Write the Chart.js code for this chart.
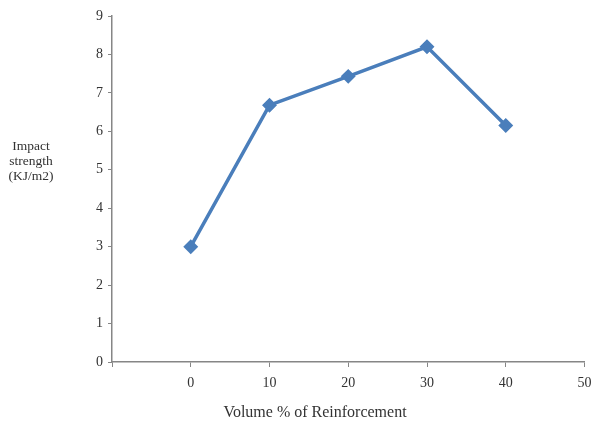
<!DOCTYPE html>
<html>
<head>
<meta charset="utf-8">
<script src="https://cdn.jsdelivr.net/npm/chart.js@4"></script>
<style>
  body { margin: 0; background: #fff; }
  #wrap { width: 593px; height: 425px; position: relative; }
</style>
</head>
<body>
<div id="wrap"><canvas id="myChart"></canvas></div>
<script>
// data
const volumes = [0, 10, 20, 30, 40];
const strength = [3.0, 6.68, 7.43, 8.2, 6.15];
const xTicks = [0, 10, 20, 30, 40, 50];
const yLabel = ['Impact', 'strength', '(KJ/m2)'];
const xLabel = 'Volume % of Reinforcement';

const points = volumes.map((v, i) => ({x: v, y: strength[i]}));

// axis titles drawn as text where the original has them
const titles = {
  id: 'titles',
  afterDraw(chart) {
    const ctx = chart.ctx;
    ctx.save();
    ctx.fillStyle = '#333';
    ctx.textAlign = 'center';
    ctx.textBaseline = 'middle';
    ctx.font = '13.5px "Liberation Serif", "Times New Roman", serif';
    yLabel.forEach((t, i) => ctx.fillText(t, 31, 146 + i * 15));
    ctx.font = '16px "Liberation Serif", "Times New Roman", serif';
    ctx.fillText(xLabel, 315, 413);
    ctx.restore();
  }
};

new Chart(document.getElementById('myChart'), {
  type: 'scatter',
  data: {
    datasets: [{
      data: points,
      showLine: true,
      borderColor: '#4a7ebb',
      backgroundColor: '#4a7ebb',
      borderWidth: 3.5,
      pointStyle: 'rectRot',
      pointRadius: 5,
      pointHoverRadius: 5
    }]
  },
  options: {
    responsive: true,
    maintainAspectRatio: false,
    animation: false,
    layout: { padding: { left: 0, top: 16, right: 0, bottom: 0 } },
    plugins: { legend: { display: false }, tooltip: { enabled: false } },
    scales: {
      x: {
        type: 'linear',
        min: -10,
        max: 50,
        afterBuildTicks: s => { s.ticks = [-10].concat(xTicks).map(v => ({value: v})); },
        afterFit: s => { s.height = 63; s.paddingRight = 8; },
        border: { color: '#868686', width: 1.5 },
        grid: { drawOnChartArea: false, color: '#868686', tickLength: 5 },
        ticks: {
          color: '#333',
          padding: 8,
          font: { family: '"Liberation Serif", "Times New Roman", serif', size: 14 },
          callback: v => v < 0 ? '' : v
        }
      },
      y: {
        min: 0,
        max: 9,
        afterFit: s => { s.width = 112; },
        border: { color: '#868686', width: 1.5 },
        grid: { drawOnChartArea: false, color: '#868686', tickLength: 4 },
        ticks: {
          stepSize: 1,
          color: '#333',
          padding: 5,
          font: { family: '"Liberation Serif", "Times New Roman", serif', size: 14 }
        }
      }
    }
  },
  plugins: [titles]
});
</script>
</body>
</html>
